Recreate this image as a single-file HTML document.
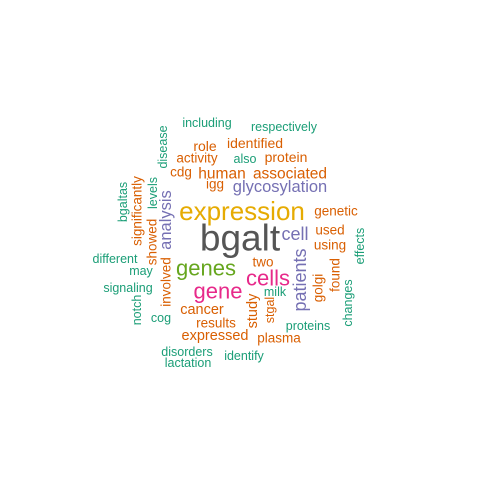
<!DOCTYPE html>
<html><head><meta charset="utf-8"><style>
html,body{margin:0;padding:0;background:#fff;}
svg{display:block;font-family:"Liberation Sans",Arial,sans-serif;}
</style></head><body>
<svg id="cloud" width="480" height="480" viewBox="0 0 480 480"></svg>
<script>
const words = ["bgalt","expression","genes","gene","cells","glycosylation","cell","associated","human","protein","identified","role","activity","cdg","igg","also","including","respectively","genetic","used","using","two","milk","proteins","plasma","identify","cancer","results","expressed","disorders","lactation","cog","signaling","may","different","bgaltas","significantly","showed","levels","disease","analysis","involved","notch","study","stgal","patients","golgi","found","changes","effects"];
const sizes = [37,26,22,22,22,16.5,18,15.5,15.5,14,14,14,13.5,13.5,13.5,12.5,12.5,12.5,13.5,13.5,13.5,13.5,12.5,12.5,13.5,12.5,14.5,13.5,14.5,12.5,12.5,12.5,12.5,12.5,12.5,12.5,13.5,13.5,12.5,12.5,16.5,13.5,12.5,14.5,12.5,18,13.5,13.5,12.5,12.5];
const colorIdx = [6,5,4,3,3,2,2,1,1,1,1,1,1,1,1,0,0,0,1,1,1,1,0,0,1,0,1,1,1,0,0,0,0,0,0,0,1,1,0,0,2,1,0,1,1,2,1,1,0,0];
const vertical = [0,0,0,0,0,0,0,0,0,0,0,0,0,0,0,0,0,0,0,0,0,0,0,0,0,0,0,0,0,0,0,0,0,0,0,1,1,1,1,1,1,1,1,1,1,1,1,1,1,1];
const cx = [240,242,206,218,268,280,295,290,222,286,255,205,197,181,215,245,207,284,336,330,330,263,275,308,279,244,202,216,215,187,188,161,128,141,115,123,137,152,153,163,166,166,137,253,270,300,318,335,348,360];
const cy = [238,211,268,291,278,187,234,174,174,157,143,146,158,172,184,159,123,127,211,230,245,262,292,326,338,356,310,323,336,352,363,318,288,271,259,202,211,242,193,147,220,282,310,311,310,280,288,275,303,246];
const palette = ["#1b9e77","#d95f02","#7570b3","#e7298a","#66a61e","#e6ab02","#555555"];
const svg = document.getElementById('cloud');
for (let i = 0; i < words.length; i++) {
  const t = document.createElementNS('http://www.w3.org/2000/svg','text');
  t.setAttribute('x', cx[i]);
  t.setAttribute('y', cy[i]);
  t.setAttribute('font-size', sizes[i]);
  t.setAttribute('fill', palette[colorIdx[i]]);
  t.setAttribute('text-anchor', 'middle');
  t.setAttribute('dominant-baseline', 'central');
  if (vertical[i]) t.setAttribute('transform', 'rotate(-90 ' + cx[i] + ' ' + cy[i] + ')');
  t.textContent = words[i];
  
  
  svg.appendChild(t);
}
</script>
</body></html>
